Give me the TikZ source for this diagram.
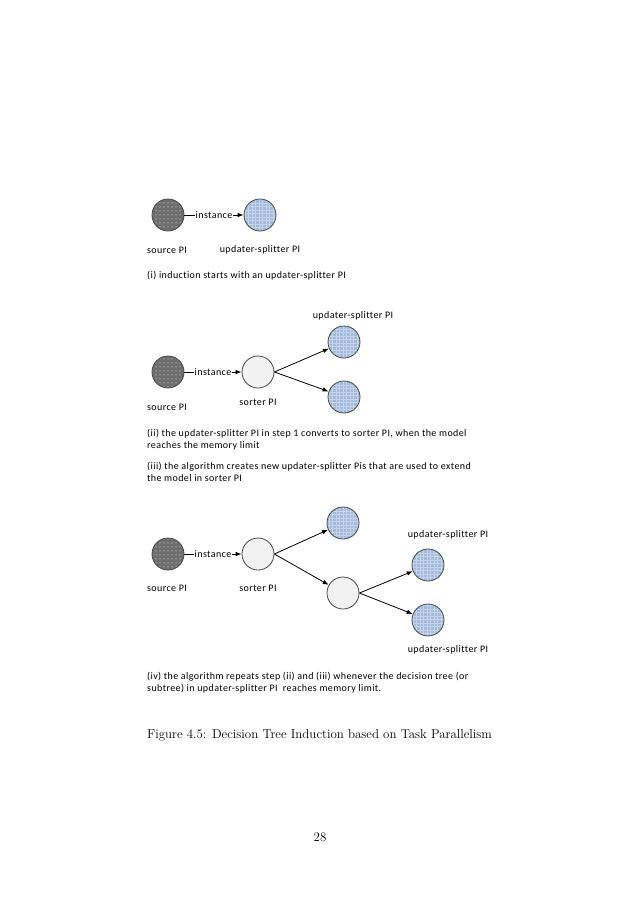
\documentclass[tikz,border=0pt]{standalone}
\usepackage{fontspec}
\newfontfamily\calibri[Ligatures=NoCommon, LetterSpace=4]{Carlito}
\usepackage{tikz}
\usetikzlibrary{patterns,arrows.meta}
\definecolor{rimcol}{HTML}{3F4B3F}
\definecolor{srcfill}{HTML}{6E6E6E}
\definecolor{srcdots}{HTML}{ABABAB}
\definecolor{updfill}{HTML}{A4BADC}
\definecolor{updgrid}{HTML}{C6D4EB}
\definecolor{sortfill}{HTML}{F2F2F2}
\pgfdeclarepatternformonly{srcdotpat}{\pgfqpoint{-1pt}{-1pt}}{\pgfqpoint{1pt}{1pt}}{\pgfqpoint{4pt}{4pt}}{%
	\pgfpathcircle{\pgfqpoint{0pt}{0pt}}{0.75pt}\pgfusepath{fill}}
\pgfdeclarepatternformonly{updgridpat}{\pgfqpoint{-0.5pt}{-0.5pt}}{\pgfqpoint{3.5pt}{3.5pt}}{\pgfqpoint{3.5pt}{3.5pt}}{%
	\pgfsetlinewidth{0.5pt}\pgfpathmoveto{\pgfqpoint{0pt}{0pt}}\pgfpathlineto{\pgfqpoint{3.5pt}{0pt}}%
	\pgfpathmoveto{\pgfqpoint{0pt}{0pt}}\pgfpathlineto{\pgfqpoint{0pt}{3.5pt}}\pgfusepath{stroke}}
\tikzset{
	srcpi/.style={circle, minimum size=32pt, inner sep=0pt, draw=rimcol, line width=0.8pt, preaction={fill=srcfill}, pattern=srcdotpat, pattern color=srcdots},
	updpi/.style={circle, minimum size=32pt, inner sep=0pt, draw=rimcol, line width=0.8pt, preaction={fill=updfill}, pattern=updgridpat, pattern color=updgrid},
	sortpi/.style={circle, minimum size=32pt, inner sep=0pt, draw=rimcol, line width=0.8pt, fill=sortfill},
	flow/.style={line width=0.8pt, -{Latex[length=6pt,width=4.5pt]}},
	tag/.style={font=\calibri\fontsize{10}{12}\selectfont, inner sep=0pt},
	note/.style={font=\calibri\fontsize{10}{12}\selectfont, inner sep=0pt, anchor=base west, align=left},
	inst/.style={font=\calibri\fontsize{10}{12}\selectfont, fill=white, inner sep=1pt}
}

\begin{document}
\begin{tikzpicture}[x=1pt, y=-1pt]
			%%%%% START %%%%%
			\useasboundingbox[fill=white] (0, 0) rectangle (638, 903);
			
			% (i)
			\node[srcpi] (srcA) at (168, 215) {};
			\node[updpi] (updA) at (260, 215) {};
			\draw[flow] (srcA) -- node[inst] (instA) {instance} (updA);
			\node[tag, anchor=base] (srcAtag) at (167, 253) {source PI};
			\node[tag, anchor=base] (updAtag) at (260, 252) {updater-splitter PI};
			\node[note] (noteA) at (147, 278) {(i) induction starts with an updater-splitter PI};
			
			% (ii) and (iii)
			\node[srcpi] (srcB) at (168, 372) {};
			\node[sortpi] (sortB) at (258, 372) {};
			\node[updpi] (updBa) at (344, 342) {};
			\node[updpi] (updBb) at (344, 397) {};
			\draw[flow] (srcB) -- node[inst] (instB) {instance} (sortB);
			\draw[flow] (sortB.east) -- (updBa);
			\draw[flow] (sortB.east) -- (updBb);
			\node[tag, anchor=base] (updBtag) at (353, 318) {updater-splitter PI};
			\node[tag, anchor=base] (srcBtag) at (167, 410) {source PI};
			\node[tag, anchor=base] (sortBtag) at (258, 405) {sorter PI};
			\node[note] (noteB) at (147, 448) {(ii) the updater-splitter PI in step 1 converts to sorter PI, when the model\\reaches the memory limit};
			\node[note] (noteC) at (147, 481) {(iii) the algorithm creates new updater-splitter Pis that are used to extend\\the model in sorter PI};
			
			% (iv)
			\node[srcpi] (srcD) at (168, 554) {};
			\node[sortpi] (sortD) at (258, 554) {};
			\node[updpi] (updDa) at (343, 523) {};
			\node[sortpi] (sortDb) at (343, 593) {};
			\node[updpi] (updDb) at (428, 565) {};
			\node[updpi] (updDc) at (428, 620) {};
			\draw[flow] (srcD) -- node[inst] (instD) {instance} (sortD);
			\draw[flow] (sortD.east) -- (updDa);
			\draw[flow] (sortD.east) -- (sortDb);
			\draw[flow] (sortDb.east) -- (updDb);
			\draw[flow] (sortDb.east) -- (updDc);
			\node[tag, anchor=base] (updDtagA) at (448, 537) {updater-splitter PI};
			\node[tag, anchor=base] (updDtagB) at (448, 652) {updater-splitter PI};
			\node[tag, anchor=base] (srcDtag) at (167, 591) {source PI};
			\node[tag, anchor=base] (sortDtag) at (258, 591) {sorter PI};
			\node[note] (noteD) at (147, 691) {(iv) the algorithm repeats step (ii) and (iii) whenever the decision tree (or\\subtree) in updater-splitter PI\ \ reaches memory limit.};
			
			% caption and page
			\node[font=\fontsize{12.9}{15}\selectfont, anchor=base, inner sep=0pt] (cap) at (319.5, 738) {Figure 4.5: Decision Tree Induction based on Task Parallelism};
			\node[font=\fontsize{12.9}{15}\selectfont, anchor=base, inner sep=0pt] (page) at (320, 841) {28};
			%%%%% END %%%%%
\end{tikzpicture}
\end{document}
